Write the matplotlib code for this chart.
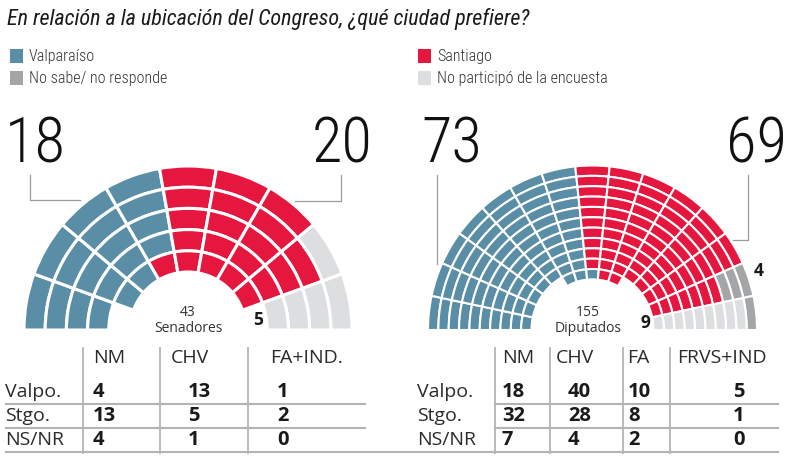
import matplotlib
matplotlib.use('Agg')
import matplotlib.pyplot as plt
from matplotlib import font_manager
from matplotlib.patches import Rectangle, Wedge

W, H = 797, 467

# --- datos -------------------------------------------------------------
# butacas por cuña (de izquierda a derecha), de afuera hacia adentro
# V = Valparaiso, S = Santiago, N = no sabe/no responde, X = no participo
senado_cunas = ['VVVV', 'VVVVV', 'VVVVV', 'VVVVS', 'SSSSS', 'SSSSS', 'SSSSS',
                'XSSSS', 'XXXX']
diput_cunas = ['V' * 10] * 5 + ['V' * 11] * 2 + ['S' * 10 + 'V'] + ['S' * 11] * 2 \
    + ['S' * 10] * 3 + ['NNN' + 'S' * 7, 'N' + 'X' * 9]

senado_total = 43
diput_total = 155
senado_valpo, senado_stgo, senado_nsnr = 18, 20, 5
diput_valpo, diput_stgo, diput_nsnr, diput_nopart = 73, 69, 4, 9

filas = ['Valpo.', 'Stgo.', 'NS/NR']
senado_cols = ['NM', 'CHV', 'FA+IND.']
senado_tabla = [[4, 13, 1], [13, 5, 2], [4, 1, 0]]
diput_cols = ['NM', 'CHV', 'FA', 'FRVS+IND']
diput_tabla = [[18, 40, 10, 5], [32, 28, 8, 1], [7, 4, 2, 0]]

COLORES = {'V': '#5a8ea6', 'S': '#e5173f', 'N': '#a4a5a7', 'X': '#dddee0'}
leyenda = [('V', 'Valparaíso', 10, 49), ('N', 'No sabe/ no responde', 10, 71),
           ('S', 'Santiago', 418, 49), ('X', 'No participó de la encuesta', 418, 71)]


def pick(*names):
    have = {f.name for f in font_manager.fontManager.ttflist}
    for n in names:
        if n in have:
            return n
    return 'DejaVu Sans'


NARROW = pick('Roboto Condensed', 'Liberation Sans Narrow', 'Open Sans Condensed')
SANS = pick('Open Sans', 'Noto Sans', 'Lato')
TXT = '#2b2b2b'


def hemiciclo(ax, cx, cy, r_out, paso, cunas, lw):
    step = 180 / len(cunas)
    for i, cuna in enumerate(cunas):
        t1, t2 = 180 + i * step, 180 + (i + 1) * step
        for k, c in enumerate(cuna):
            ax.add_patch(Wedge((cx, cy), r_out - k * paso, t1, t2, width=paso,
                               facecolor=COLORES[c], edgecolor='white', lw=lw))


fig = plt.figure(figsize=(W / 100, H / 100), dpi=100)
ax = fig.add_axes([0, 0, 1, 1])
ax.set_xlim(0, W)
ax.set_ylim(H, 0)
ax.axis('off')

ax.text(7, 19, 'En relación a la ubicación del Congreso, ¿qué ciudad prefiere?',
        family=NARROW, style='italic', fontsize=15.9, color='#1a1a1a', va='center')
for c, lab, x, y in leyenda:
    ax.add_patch(Rectangle((x, y), 13, 14, facecolor=COLORES[c], lw=0))
    ax.text(x + 19, y + 7, lab, family=NARROW, weight='light', fontsize=11.6,
            color='#333333', va='center')

# conectores de los numeros grandes
gris = '#9a9a9a'
ax.plot([30, 30, 80], [175, 200, 200], color=gris, lw=0.9)
ax.plot([341, 341, 295], [175, 201, 201], color=gris, lw=0.9)
ax.plot([437, 437], [175, 264], color=gris, lw=0.9)
ax.plot([748, 748, 733], [175, 240, 240], color=gris, lw=0.9)

hemiciclo(ax, 188, 330, 164, 21.2, senado_cunas, 2.2)
hemiciclo(ax, 592.5, 330, 164.5, 10.35, diput_cunas, 1.5)

big = dict(family=NARROW, weight='light', fontsize=45, color='#111111',
           va='center', ha='center')
ax.text(35, 145, str(senado_valpo), **big)
ax.text(342, 145, str(senado_stgo), **big)
ax.text(452, 145, str(diput_valpo), **big)
ax.text(757, 145, str(diput_stgo), **big)

chico = dict(family=SANS, fontsize=10, color='#333333', ha='center', va='center')
ax.text(188, 312, str(senado_total), **chico)
ax.text(188, 328, 'Senadores', **chico)
ax.text(588, 312, str(diput_total), **chico)
ax.text(588, 328, 'Diputados', **chico)
bold = dict(family=SANS, fontsize=12.5, weight='bold', color='#1a1a1a', ha='center',
            va='center')
ax.text(258, 320, str(senado_nsnr), **bold)
ax.text(645, 323, str(diput_nopart), **bold)
ax.text(759, 271, str(diput_nsnr), **bold)

# tablas
linea = '#b4b4b4'
fila_y = [392, 416, 440]
hdr_y = 358


def tabla(x_lab, x_hdr, x_val, x_sep, x0, x1, cols, vals):
    for x in x_sep:
        ax.plot([x, x], [348, 453], color=linea, lw=1.3)
    for y in (404, 428):
        ax.plot([x0, x1], [y, y], color=linea, lw=1.5)
    for h, x in zip(cols, x_hdr):
        ax.text(x, hdr_y, h, family=SANS, fontsize=14, color=TXT, va='center')
    for r, y, fila in zip(filas, fila_y, vals):
        ax.text(x_lab, y, r, family=SANS, fontsize=14, color=TXT, va='center')
        for v, x in zip(fila, x_val):
            ax.text(x, y, str(v), family=SANS, fontsize=14.5, weight='bold',
                    color='#1a1a1a', va='center')


tabla(5, [93, 171, 270], [93, 188, 277], [83, 160, 248], 6, 365,
      senado_cols, senado_tabla)
tabla(417, [502, 556, 627, 677], [502, 568, 628, 733], [495, 550, 623, 670], 495, 778,
      diput_cols, diput_tabla)
ax.plot([6, 778], [452, 452], color=linea, lw=1.5)

fig.savefig('out.png', dpi=100)
